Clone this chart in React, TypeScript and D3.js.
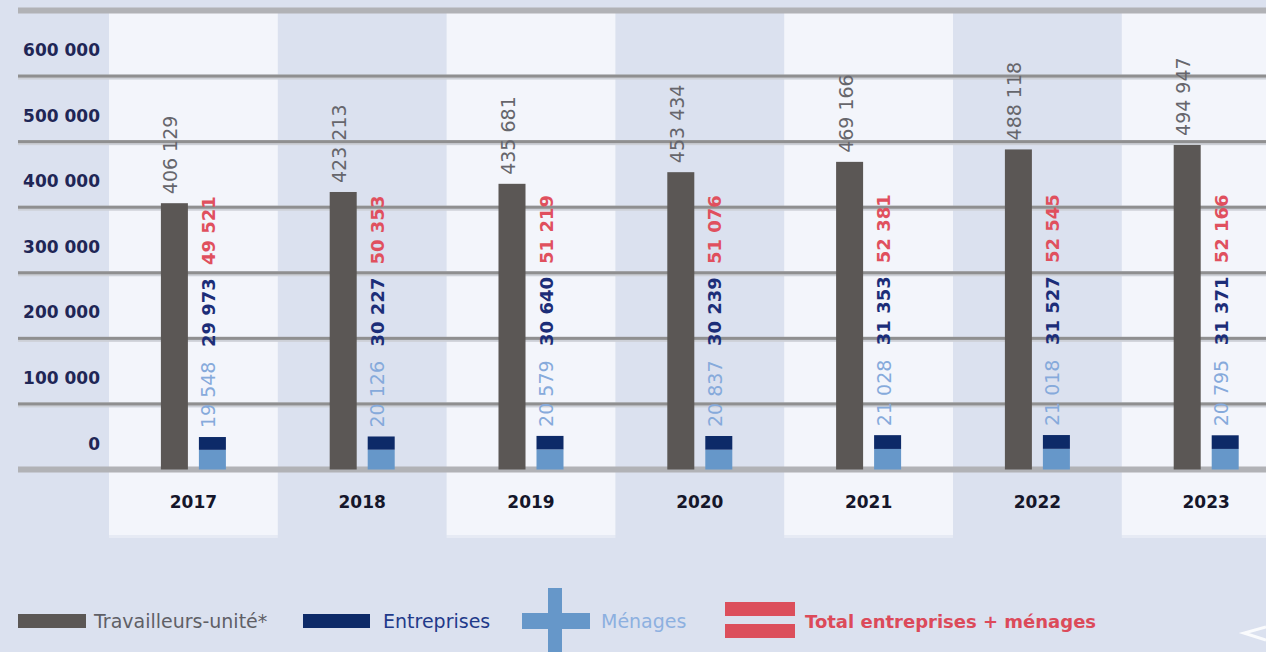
import React from "react";
import * as d3 from "d3";

const years = ["2017", "2018", "2019", "2020", "2021", "2022", "2023"];
const travailleurs = [406129, 423213, 435681, 453434, 469166, 488118, 494947];
const entreprises = [29973, 30227, 30640, 30239, 31353, 31527, 31371];
const menages = [19548, 20126, 20579, 20837, 21028, 21018, 20795];
const totals = [49521, 50353, 51219, 51076, 52381, 52545, 52166];
const yTicks = [0, 100000, 200000, 300000, 400000, 500000, 600000];
const gridValues = [0, 100000, 200000, 300000, 400000, 500000, 600000, 700000];

const W = 1266;
const H = 652;
const BG = "#dbe1ef";
const BAND = "#f3f5fb";
const GRAY = "#5b5755";
const NAVY = "#0d2a68";
const LIGHT = "#6697c9";
const RED = "#dc4f5c";
const FONT = "'DejaVu Sans', sans-serif";

// french style thousands: "406 129"
const fmt = (v: number) => d3.format(",")(v).replace(/,/g, " ");

export default function App() {
  const x = d3.scaleBand().domain(years).range([109, 109 + 168.8 * years.length]).padding(0);
  const y = d3.scaleLinear().domain([0, 700000]).range([469.5, 10.5]);
  const barW = 27;

  return (
    <svg width={W} height={H} style={{ position: "absolute", left: 0, top: 0, background: BG }}>
      <rect x={0} y={0} width={W} height={H} fill={BG} />

      {/* alternating column bands */}
      {years.map((yr, i) =>
        i % 2 === 0 ? (
          <g key={"band" + yr}>
            <rect x={x(yr)} y={12} width={x.bandwidth()} height={523} fill={BAND} />
            <rect x={x(yr)} y={535} width={x.bandwidth()} height={3} fill="#e6eaf4" />
          </g>
        ) : null
      )}

      {/* grid lines */}
      {gridValues.map((v, i) => {
        const gy = y(v);
        const edge = i === 0 || i === gridValues.length - 1;
        return edge ? (
          <rect key={"g" + v} x={18} y={gy - 3} width={W - 18} height={6} fill="#b1b2b6" />
        ) : (
          <g key={"g" + v}>
            <rect x={18} y={gy - 1.5} width={W - 18} height={5} fill="#cdd0d7" />
            <rect x={18} y={gy - 1.5} width={W - 18} height={3} fill="#8f8f90" />
          </g>
        );
      })}

      {/* y tick labels */}
      {yTicks.map((v) => (
        <text
          key={"t" + v}
          x={100}
          y={y(v) - 26}
          textAnchor="end"
          dominantBaseline="central"
          fontFamily={FONT}
          fontWeight="bold"
          fontSize={17}
          fill="#1f2656"
        >
          {fmt(v)}
        </text>
      ))}

      {/* bars and value labels */}
      {years.map((yr, i) => {
        const c = (x(yr) as number) + x.bandwidth() / 2;
        const gx = c - 32.5;
        const sx = c + 5.5;
        const gTop = y(travailleurs[i]);
        const lowTop = y(entreprises[i]);
        const stackTop = y(entreprises[i] + menages[i]);
        const lx = sx + barW / 2 - 4;
        const label = (val: number, ly: number, color: string, weight: string, size: number, lxx: number) => (
          <text
            transform={`translate(${lxx},${ly}) rotate(-90)`}
            textAnchor="start"
            dominantBaseline="central"
            fontFamily={FONT}
            fontWeight={weight}
            fontSize={size}
            fill={color}
          >
            {fmt(val)}
          </text>
        );
        return (
          <g key={"bar" + yr}>
            <rect x={gx} y={gTop} width={barW} height={y(0) - gTop} fill={GRAY} />
            <rect x={sx} y={lowTop} width={barW} height={y(0) - lowTop} fill={LIGHT} />
            <rect x={sx} y={stackTop} width={barW} height={lowTop - stackTop} fill={NAVY} />
            {label(travailleurs[i], gTop - 9, "#66666c", "normal", 19, gx + barW / 2 - 4)}
            {label(menages[i], stackTop - 9, "#86aadb", "normal", 19, lx)}
            {label(entreprises[i], stackTop - 90, "#1c2d78", "bold", 18, lx)}
            {label(totals[i], stackTop - 172, "#e0505e", "bold", 18, lx)}
            <text
              x={c}
              y={502}
              textAnchor="middle"
              dominantBaseline="central"
              fontFamily={FONT}
              fontWeight="bold"
              fontSize={17}
              fill="#15162a"
            >
              {yr}
            </text>
          </g>
        );
      })}

      {/* legend */}
      <g fontFamily={FONT}>
        <rect x={18} y={614} width={68} height={14} fill={GRAY} />
        <text x={94} y={621} dominantBaseline="central" fontSize={19} fill="#5f5f66">
          Travailleurs-unité*
        </text>
        <rect x={303} y={614} width={67} height={14} fill={NAVY} />
        <text x={383} y={621} dominantBaseline="central" fontSize={19} fill="#1f3a8a">
          Entreprises
        </text>
        <rect x={522} y={613} width={68} height={16} fill={LIGHT} />
        <rect x={548} y={588} width={14} height={64} fill={LIGHT} />
        <text x={601} y={621} dominantBaseline="central" fontSize={19} fill="#8db0e0">
          Ménages
        </text>
        <rect x={725} y={602} width={70} height={14} fill={RED} />
        <rect x={725} y={624} width={70} height={14} fill={RED} />
        <text x={805} y={621} dominantBaseline="central" fontSize={18} fontWeight="bold" fill="#dc4a5a">
          Total entreprises + ménages
        </text>
      </g>

      <path d="M1266,627 L1244,633 L1266,640" fill="none" stroke="#ffffff" strokeWidth={3} opacity={0.85} />
    </svg>
  );
}
